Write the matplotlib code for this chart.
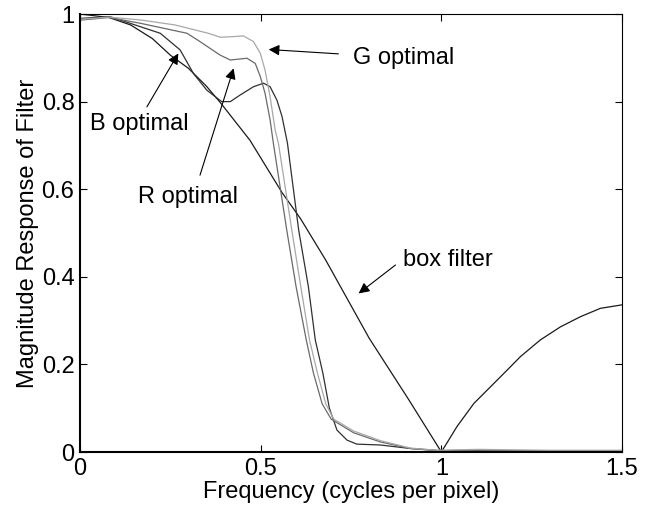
import matplotlib
matplotlib.use("Agg")
import matplotlib.pyplot as plt

plt.rcParams['font.family'] = ['Liberation Sans', 'DejaVu Sans']

# box filter response
box_f = [0, 0.08, 0.14, 0.2, 0.25, 0.3, 0.35, 0.39, 0.47, 0.56, 0.61, 0.68, 0.8, 0.91, 1.0,
         1.043, 1.09, 1.136, 1.182, 1.219, 1.274, 1.33, 1.385, 1.44, 1.5]
box_y = [1.0, 0.992, 0.975, 0.944, 0.906, 0.876, 0.835, 0.796, 0.712, 0.591, 0.533, 0.438, 0.26, 0.119, 0.0,
         0.058, 0.111, 0.149, 0.187, 0.218, 0.256, 0.286, 0.309, 0.328, 0.336]

# optimal filters
g_f = [0, 0.08, 0.171, 0.263, 0.355, 0.388, 0.416, 0.452, 0.48, 0.499, 0.512, 0.526, 0.54, 0.549,
       0.586, 0.611, 0.635, 0.657, 0.68, 0.702, 0.757, 0.831, 0.914, 0.988, 1.1, 1.2, 1.3, 1.4, 1.5]
g_y = [0.988, 0.993, 0.986, 0.975, 0.956, 0.947, 0.948, 0.95, 0.937, 0.91, 0.872, 0.811, 0.735, 0.705,
       0.507, 0.377, 0.256, 0.18, 0.11, 0.075, 0.048, 0.026, 0.009, 0.004, 0.006, 0.005, 0.004, 0.004, 0.004]

r_f = [0, 0.08, 0.166, 0.296, 0.332, 0.388, 0.416, 0.462, 0.485, 0.499, 0.512, 0.526, 0.535,
       0.572, 0.598, 0.626, 0.646, 0.67, 0.695, 0.757, 0.831, 0.914, 0.988, 1.1, 1.2, 1.3, 1.4, 1.5]
r_y = [0.986, 0.992, 0.979, 0.956, 0.937, 0.906, 0.895, 0.899, 0.887, 0.857, 0.819, 0.758, 0.705,
       0.507, 0.377, 0.256, 0.18, 0.11, 0.075, 0.044, 0.023, 0.008, 0.003, 0.004, 0.003, 0.003, 0.003, 0.003]

b_f = [0, 0.083, 0.222, 0.277, 0.314, 0.351, 0.392, 0.416, 0.443, 0.48, 0.508, 0.526, 0.545, 0.559,
       0.574, 0.605, 0.632, 0.651, 0.672, 0.69, 0.711, 0.739, 0.766, 0.831, 0.914, 1.0, 1.1, 1.2, 1.3, 1.4, 1.5]
b_y = [0.99, 0.994, 0.956, 0.918, 0.864, 0.826, 0.8, 0.8, 0.815, 0.834, 0.842, 0.834, 0.803, 0.766,
       0.705, 0.507, 0.377, 0.256, 0.18, 0.1, 0.05, 0.027, 0.018, 0.016, 0.008, 0.003, 0.004, 0.003, 0.003, 0.003, 0.003]

fig = plt.figure(figsize=(6.48, 5.13), dpi=100)
ax = fig.add_axes([0.1235, 0.1189, 0.8365, 0.8538])

ax.plot(box_f, box_y, color='#1a1a1a', lw=0.9)
ax.plot(b_f, b_y, color='#303030', lw=0.9)
ax.plot(r_f, r_y, color='#6a6a6a', lw=0.9)
ax.plot(g_f, g_y, color='#a8a8a8', lw=0.9)

ax.set_xlim(0, 1.5)
ax.set_ylim(0, 1)
ax.set_xticks([0, 0.5, 1, 1.5])
ax.set_xticklabels(['0', '0.5', '1', '1.5'])
ax.set_yticks([0, 0.2, 0.4, 0.6, 0.8, 1])
ax.set_yticklabels(['0', '0.2', '0.4', '0.6', '0.8', '1'])
ax.tick_params(direction='in', length=5, width=0.8, top=True, right=True, labelsize=17, pad=4)
for s in ['left', 'bottom']:
    ax.spines[s].set_linewidth(1.5)
for s in ['top', 'right']:
    ax.spines[s].set_linewidth(0.8)

ax.set_xlabel('Frequency (cycles per pixel)', fontsize=17, labelpad=1)
ax.set_ylabel('Magnitude Response of Filter', fontsize=17, labelpad=2)

arr = dict(arrowstyle='-|>', color='black', lw=0.8, mutation_scale=16, shrinkA=0, shrinkB=0)
ax.annotate('', xy=(0.522, 0.919), xytext=(0.715, 0.909), arrowprops=arr)
ax.text(0.756, 0.90, 'G optimal', fontsize=17, va='center', ha='left')
ax.annotate('', xy=(0.272, 0.91), xytext=(0.185, 0.788), arrowprops=arr)
ax.text(0.028, 0.749, 'B optimal', fontsize=17, va='center', ha='left')
ax.annotate('', xy=(0.425, 0.876), xytext=(0.332, 0.632), arrowprops=arr)
ax.text(0.161, 0.583, 'R optimal', fontsize=17, va='center', ha='left')
ax.annotate('', xy=(0.771, 0.362), xytext=(0.873, 0.427), arrowprops=arr)
ax.text(0.895, 0.438, 'box filter', fontsize=17, va='center', ha='left')

fig.savefig('out.png', dpi=100)
